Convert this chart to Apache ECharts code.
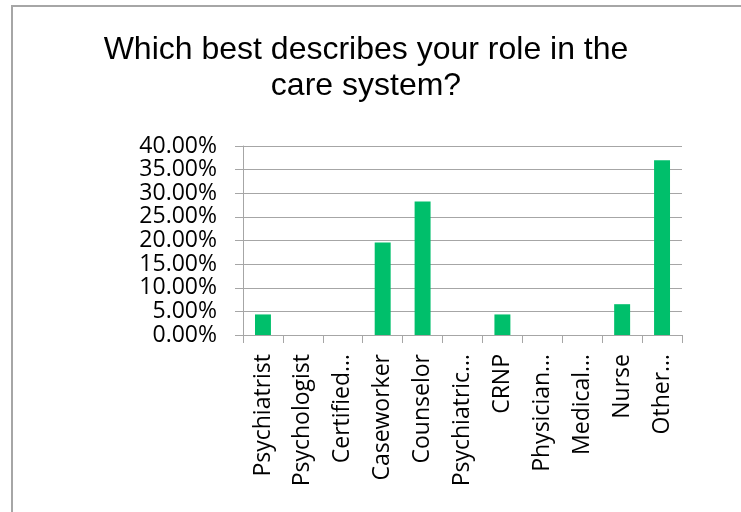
<!DOCTYPE html>
<html>
<head>
<meta charset="utf-8">
<style>
  html, body { margin: 0; padding: 0; background: #ffffff; }
  #chart { width: 741px; height: 512px; }
</style>
<script src="https://cdn.jsdelivr.net/npm/echarts@6/dist/echarts.min.js"></script>
</head>
<body>
<div id="chart"></div>
<script>
// Survey answers: share of respondents per role
const roles = ['Psychiatrist', 'Psychologist', 'Certified…', 'Caseworker', 'Counselor',
  'Psychiatric…', 'CRNP', 'Physician…', 'Medical…', 'Nurse', 'Other…'];
const shares = [4.35, 0, 0, 19.57, 28.26, 0, 4.35, 0, 0, 6.52, 36.96];
const yTicks = [0, 5, 10, 15, 20, 25, 30, 35, 40];

const titleLines = ['Which best describes your role in the', 'care system?'];
const labelFont = '"Open Sans", "Noto Sans", sans-serif';

const chart = echarts.init(document.getElementById('chart'), null, { renderer: 'canvas' });
chart.setOption({
  animation: false,
  backgroundColor: '#ffffff',
  title: {
    text: titleLines.join('\n'),
    left: 361,
    top: 27,
    textAlign: 'center',
    textStyle: {
      fontFamily: '"Liberation Sans", Arial, sans-serif',
      fontWeight: 'normal',
      fontSize: 32,
      lineHeight: 36,
      color: '#000000'
    }
  },
  graphic: [{
    type: 'rect',
    shape: { x: 12, y: 6, width: 800, height: 600 },
    style: { fill: 'none', stroke: '#a6a6a6', lineWidth: 2 },
    silent: true
  }],
  grid: { left: 243, right: 59, top: 146, bottom: 177, containLabel: false },
  xAxis: {
    type: 'category',
    data: roles,
    boundaryGap: true,
    axisLine: { show: true, lineStyle: { color: '#a6a6a6', width: 1 } },
    axisTick: { show: true, length: 8, alignWithLabel: false, lineStyle: { color: '#a6a6a6' } },
    axisLabel: {
      interval: 0,
      rotate: 90,
      margin: 19,
      fontFamily: labelFont,
      fontSize: 23,
      color: '#000000'
    }
  },
  yAxis: {
    type: 'value',
    min: yTicks[0],
    max: yTicks[yTicks.length - 1],
    interval: 5,
    axisLine: { show: true, lineStyle: { color: '#a6a6a6', width: 1 } },
    axisTick: { show: true, length: 8, lineStyle: { color: '#a6a6a6' } },
    splitLine: { show: true, lineStyle: { color: '#a6a6a6', width: 1 } },
    axisLabel: {
      margin: 26,
      fontFamily: labelFont,
      fontSize: 23,
      color: '#000000',
      formatter: v => v.toFixed(2) + '%'
    }
  },
  series: [{
    type: 'bar',
    data: shares,
    barWidth: '40%',
    itemStyle: { color: '#00bf6b' }
  }]
});
</script>
</body>
</html>
